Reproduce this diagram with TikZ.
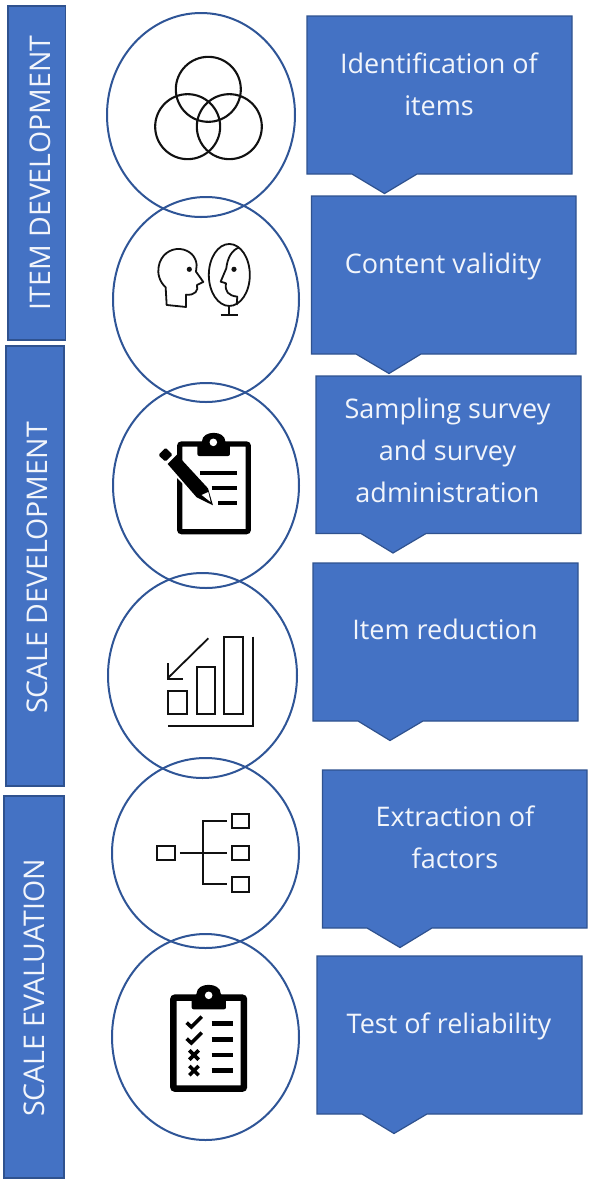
\documentclass[tikz,border=0pt]{standalone}
\usepackage{fontspec}
\setmainfont{Open Sans}
\usetikzlibrary{shapes.geometric}
\definecolor{boxfill}{HTML}{4472C4}
\definecolor{boxline}{HTML}{2F528F}
\definecolor{ringline}{HTML}{2F5597}
\definecolor{inktone}{HTML}{111111}
\definecolor{labeltone}{HTML}{F2F5FB}
\tikzset{
  shape box/.style={fill=boxfill,draw=boxline,line width=1.2pt,line join=miter},
  ring/.style={draw=ringline,line width=2pt,ellipse,inner sep=0pt,minimum width=#1},
  callout text/.style={text=labeltone,align=center,anchor=base,inner sep=0pt,font=\fontsize{27}{42}\selectfont},
  bar text/.style={text=labeltone,anchor=base,rotate=90,inner sep=0pt,font=\fontsize{28.5}{30}\selectfont},
  thin ink/.style={draw=inktone,line width=1.8pt,line join=miter},
  heavy ink/.style={draw=black,line width=4pt},
}
\newcommand{\calloutshape}[7]{%
  \draw[shape box] (#1,#2) -- (#3,#2) -- (#3,#4) -- (#7,#4) -- (#5,#4+19.5) -- (#6,#4) -- (#1,#4) -- cycle;}
\newcommand{\ringnode}[6]{%
  \node[ring=#4 pt,minimum height=#5 pt] (#6) at (#2,#3) {};}
\begin{document}
\begin{tikzpicture}[x=1pt,y=-1pt]
\useasboundingbox (0,0) rectangle (594,1187);
\fill[white] (0,0) rectangle (594,1187);
% left bars
\draw[shape box] (8,6) rectangle (65.5,340);
\draw[shape box] (6,346) rectangle (64,786);
\draw[shape box] (4,796) rectangle (64,1178);
\node[bar text] (bara) at (50,173) {ITEM DEVELOPMENT};
\node[bar text] (barb) at (47.5,568) {SCALE DEVELOPMENT};
\node[bar text] (barc) at (45,988) {SCALE EVALUATION};
% callouts
\calloutshape{307}{16}{572}{174}{384.5}{352}{417}
\calloutshape{311.5}{196}{576}{354}{389}{356}{421}
\calloutshape{316}{376}{581}{533.5}{393}{361}{426}
\calloutshape{313}{563}{578}{721}{390}{358}{423}
\calloutshape{322.5}{770}{587}{928}{400}{367}{432}
\calloutshape{317}{956}{582}{1114}{394}{362}{427}
\node[callout text] (ta) at (439,115) {Identification of\\items};
\node[callout text] (tb) at (443,273) {Content validity};
\node[callout text] (tc) at (447.5,502) {Sampling survey\\and survey\\administration};
\node[callout text] (td) at (445,639) {Item reduction};
\node[callout text] (te) at (455,868) {Extraction of\\factors};
\node[callout text] (tf) at (449,1033) {Test of reliability};
% rings
\ringnode{r}{201}{115}{188}{204}{ra}
\ringnode{r}{206}{299.5}{186}{205}{rb}
\ringnode{r}{206}{485.5}{186}{205}{rc}
\ringnode{r}{202.5}{675.5}{189}{205}{rd}
\ringnode{r}{205.5}{853}{187}{190}{re}
\ringnode{r}{205.5}{1037}{187}{206}{rf}
% venn icon
\begin{scope}[shift={(100,0)},x=0.3333pt,y=-0.3333pt]
\draw[draw=inktone,line width=2.1pt] (325,268) circle[radius=32.5pt];
\draw[draw=inktone,line width=2.1pt] (263,380) circle[radius=32.5pt];
\draw[draw=inktone,line width=2.1pt] (388,380) circle[radius=32.5pt];
% head
\draw[thin ink,line join=round] (200,915) -- (197,862) .. controls (178,845) and (172,820) .. (176,800)
  .. controls (182,765) and (210,745) .. (240,747) .. controls (270,750) and (288,770) .. (290,795)
  -- (288,815) -- (310,846) -- (291,855) .. controls (296,872) and (285,887) .. (258,884) -- (258,921) -- cycle;
\fill[inktone] (268,808) circle[radius=2.6pt];
\draw[thin ink] (388,825) ellipse[x radius=20.5pt,y radius=31pt];
\draw[thin ink] (388,917) -- (388,945) (362,945) -- (415,945);
\draw[thin ink,line join=round] (418,742) .. controls (395,750) and (382,775) .. (379,805)
  -- (362,845) -- (378,850) .. controls (374,875) and (385,887) .. (412,890) -- (410,915);
\fill[inktone] (402,808) circle[radius=2.6pt];
\end{scope}
% clipboard with pencil
\begin{scope}[shift={(100,380)},x=0.3333pt,y=-0.3333pt]
\draw[line width=5.2pt,draw=black,rounded corners=2pt] (239,192) rectangle (445,455);
\fill[black,rounded corners=2pt] (292,228) -- (292,190) -- (306,190) .. controls (306,150) and (376,150) .. (376,190) -- (390,190) -- (390,228) -- cycle;
\fill[white] (340,187) circle[radius=3.8pt];
\draw[heavy ink] (300,278) -- (410,278) (335,323) -- (410,323) (355,370) -- (410,370);
% white halo and pencil
\fill[white] (165,225) -- (195,190) -- (345,345) -- (350,390) -- (305,370) -- cycle;
\fill[black,rounded corners=1.5pt] (175,225) -- (197,203) -- (218,224) -- (196,245) -- cycle;
\fill[black] (203,252) -- (231,224) -- (324,325) -- (339,376) -- (290,352) -- cycle;
\fill[white] (305,345) -- (325,336) -- (332,366) -- cycle;
\end{scope}
% chart icon
\begin{scope}[shift={(100,380)},x=0.3333pt,y=-0.3333pt]
\draw[thin ink] (325,775) -- (205,893);
\draw[thin ink] (205,850) -- (205,896) -- (250,896);
\draw[thin ink] (205,932) rectangle (260,1003);
\draw[thin ink] (290,860) rectangle (345,1003);
\draw[thin ink] (372,772) rectangle (428,1003);
\draw[thin ink] (458,770) -- (458,1037) -- (205,1037);
\end{scope}
% tree icon and checklist
\begin{scope}[shift={(100,760)},x=0.3333pt,y=-0.3333pt]
\draw[thin ink] (172,258) rectangle (224,300);
\draw[thin ink] (395,163) rectangle (447,205);
\draw[thin ink] (395,258) rectangle (447,300);
\draw[thin ink] (395,350) rectangle (447,395);
\draw[thin ink] (240,278) -- (380,278);
\draw[thin ink] (380,184) -- (310,184) -- (310,372) -- (380,372);
% checklist
\draw[line width=6.5pt,draw=black,rounded corners=2pt] (220,713) rectangle (432,986);
\fill[black,rounded corners=2pt] (275,748) -- (275,706) -- (290,706) .. controls (290,666) and (362,666) .. (362,706) -- (378,706) -- (378,748) -- cycle;
\fill[white] (326,706) circle[radius=3.8pt];
\draw[heavy ink,line width=4.5pt] (335,790) -- (398,790) (335,838) -- (398,838) (335,885) -- (398,885) (335,932) -- (398,932);
\draw[heavy ink,line width=3.6pt] (260,788) -- (274,801) -- (305,770) (260,836) -- (274,849) -- (305,818);
\draw[heavy ink,line width=3.6pt] (268,871) -- (296,899) (296,871) -- (268,899) (268,918) -- (296,946) (296,918) -- (268,946);
\end{scope}
\end{tikzpicture}
\end{document}
